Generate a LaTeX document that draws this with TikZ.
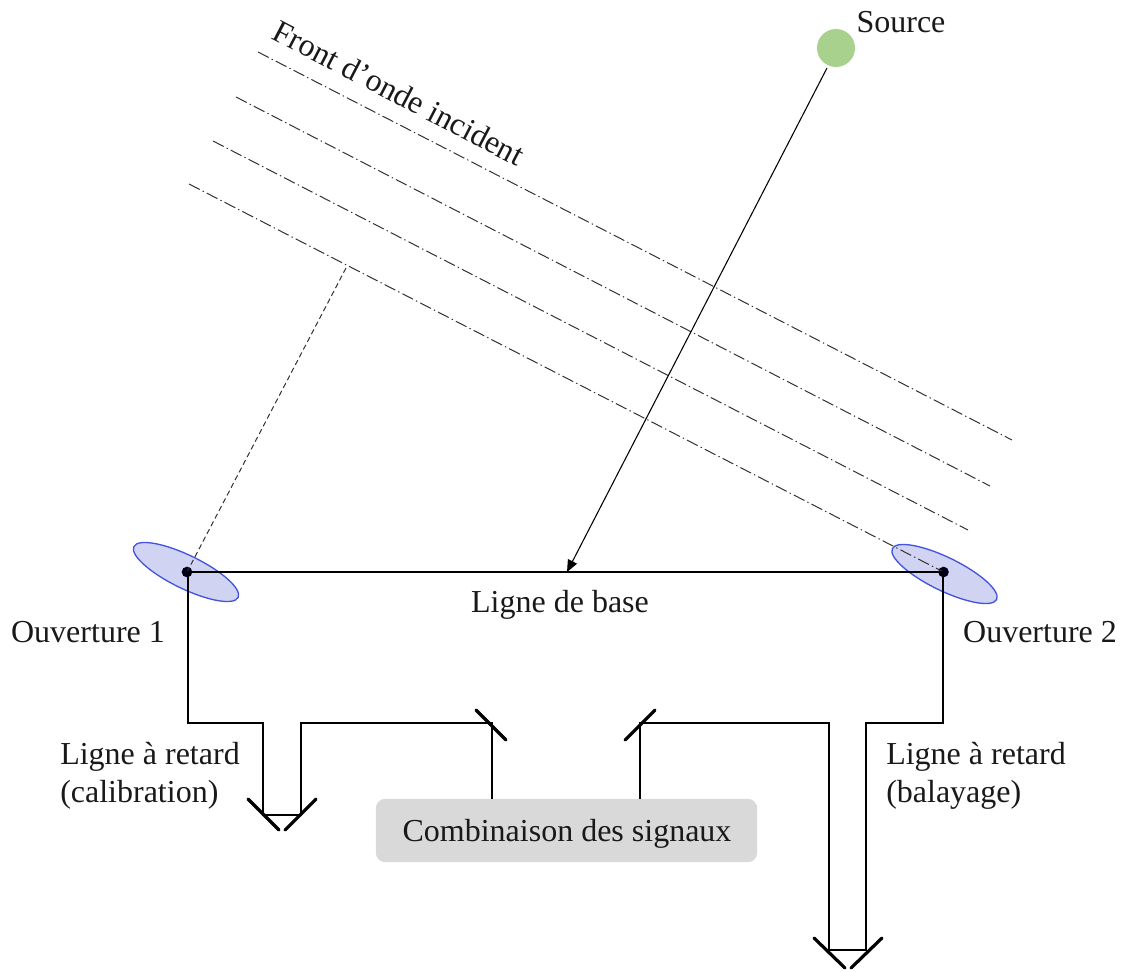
\documentclass[tikz,border=0pt]{standalone}
\usepackage{fontspec}
\setmainfont{Liberation Serif}
\usetikzlibrary{arrows.meta,shapes.geometric}
\definecolor{apfill}{RGB}{208,211,241}
\definecolor{apline}{RGB}{68,84,222}
\definecolor{srcgreen}{RGB}{169,209,142}
\definecolor{boxgray}{RGB}{217,217,217}
\definecolor{frontgray}{RGB}{50,50,50}
\tikzset{
  lbl/.style={inner sep=0pt,font=\fontsize{24}{28.5}\selectfont,align=left,text=black!90},
  wavefront/.style={draw=frontgray,line width=0.75pt,dash pattern=on 9pt off 2.5pt on 1pt off 2.5pt},
  optic/.style={draw=black,line width=0.85pt,line join=miter},
  mirror/.style={draw=black,line width=2.4pt,line cap=round},
  aperture/.style={ellipse,draw=apline,fill=apfill,line width=1pt,inner sep=0pt,minimum width=87pt,minimum height=25pt},
  focus/.style={circle,fill=black!90!blue,inner sep=0pt,minimum size=8pt}
}
\begin{document}
\begin{tikzpicture}[x=0.75pt,y=-0.75pt]
\useasboundingbox (0,0) rectangle (1124,971);
% apertures
\node[aperture,rotate=-26] (ap1) at (186,572) {};
\node[aperture,rotate=-26] (ap2) at (944.5,574) {};
% wave fronts
\coordinate (f1a) at (258,52);  \coordinate (f1b) at (1012,440);
\coordinate (f2a) at (236,97);  \coordinate (f2b) at (990,486);
\coordinate (f3a) at (213,141); \coordinate (f3b) at (968,530);
\coordinate (f4a) at (189,184);
\node[focus] (p1) at (187,572) {};
\node[focus] (p2) at (943.5,572) {};
\draw[wavefront] (f1a) -- (f1b);
\draw[wavefront] (f2a) -- (f2b);
\draw[wavefront] (f3a) -- (f3b);
\draw[wavefront] (f4a) -- (p2.center);
\coordinate (foot) at (346,268);
\draw[draw=frontgray,line width=0.75pt,dash pattern=on 4pt off 2.5pt] (foot) -- (p1.center);
% base line and source
\draw[line width=1.7pt] (p1.center) -- (p2.center);
\node[circle,fill=srcgreen,minimum size=28.5pt,inner sep=0pt] (src) at (836,48) {};
\coordinate (mid) at (567,572);
\coordinate (srcfoot) at (827,68);
\draw[line width=0.8pt,-{Triangle[length=9pt,width=7.5pt]}] (srcfoot) -- (mid);
% combiner box
\node[fill=boxgray,rounded corners=7pt,minimum width=286pt,minimum height=47.5pt,inner sep=0pt] (comb) at (566.5,830.5) {};
\node[lbl] (combt) at (567,834) {Combinaison des signaux};
% delay lines
\coordinate (a0) at (188,572);
\coordinate (a1) at (188,723); \coordinate (a2) at (263,723); \coordinate (a3) at (263,815);
\coordinate (a4) at (301,815); \coordinate (a5) at (301,723); \coordinate (a6) at (492,723);
\coordinate (a7) at (492,799);
\coordinate (b0) at (943,572);
\coordinate (b1) at (943,723); \coordinate (b2) at (866,723); \coordinate (b3) at (866,950);
\coordinate (b4) at (829,950); \coordinate (b5) at (829,723); \coordinate (b6) at (640,723);
\coordinate (b7) at (640,799);
\draw[optic] (a0) -- (a1) -- (a2) -- (a3) -- (a4) -- (a5) -- (a6) -- (a7);
\draw[optic] (b0) -- (b1) -- (b2) -- (b3) -- (b4) -- (b5) -- (b6) -- (b7);
% mirrors
\draw[mirror] (248,799) -- (279,830);
\draw[mirror] (285,830) -- (316,799);
\draw[mirror] (814,938) -- (845,968);
\draw[mirror] (851,968) -- (882,938);
\draw[mirror] (476,710) -- (506,740);
\draw[mirror] (625,740) -- (655,710);
% labels
\node[lbl] (t1) at (901,22) {Source};
\node[lbl,rotate=-27.5] (t2) at (399,93) {Front d’onde incident};
\node[lbl] (t3) at (560,605) {Ligne de base};
\node[lbl] (t4) at (88,632) {Ouverture 1};
\node[lbl] (t5) at (1040,632) {Ouverture 2};
\node[lbl,anchor=west] (t6) at (60,776) {Ligne à retard\\(calibration)};
\node[lbl,anchor=west] (t7) at (886,776) {Ligne à retard\\(balayage)};
\end{tikzpicture}
\end{document}
